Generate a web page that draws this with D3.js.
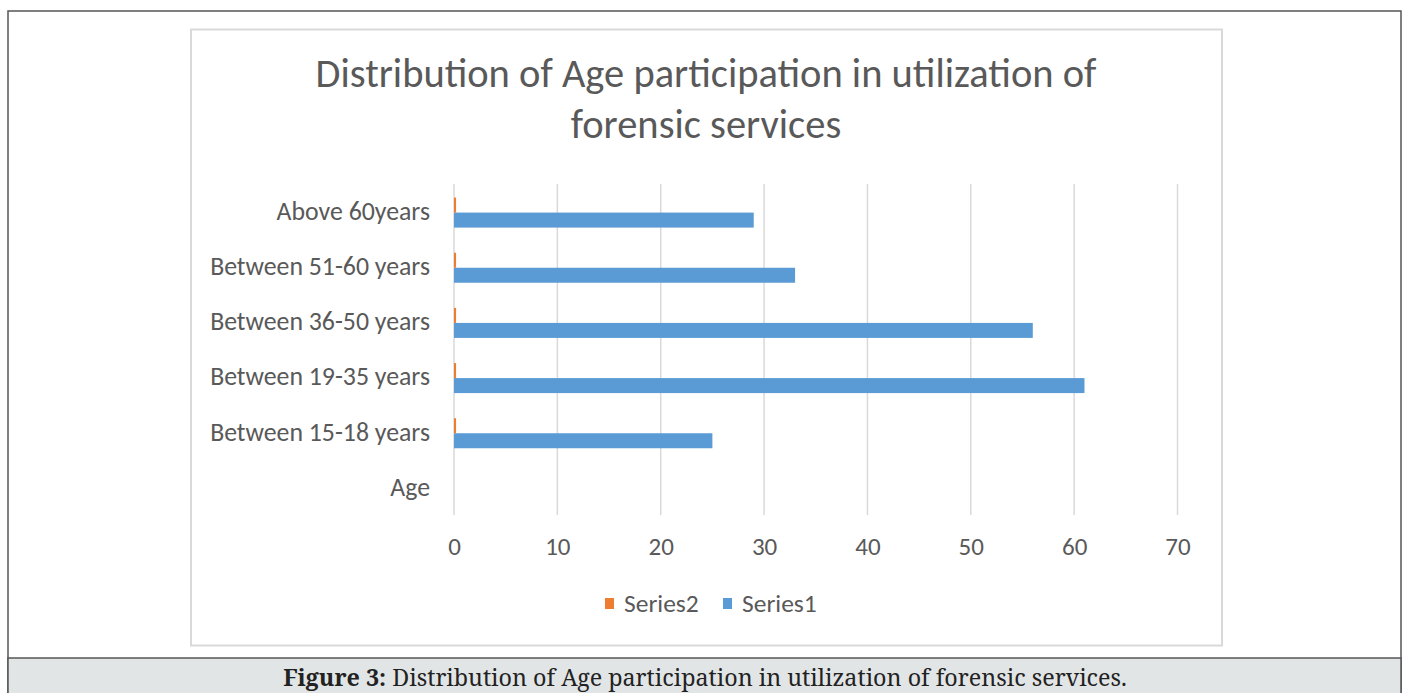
<!DOCTYPE html>
<html><head><meta charset="utf-8">
<script src="https://cdn.jsdelivr.net/npm/d3@7"></script>
<style>html,body{margin:0;padding:0;background:#fff;}svg{display:block;}</style>
</head><body>
<svg id="c" width="1405" height="693"></svg>
<script>
const categories = ["Age","Between 15-18 years","Between 19-35 years","Between 36-50 years","Between 51-60 years","Above 60years"];
const series1 = [0, 25, 61, 56, 33, 29];
const series2 = [0, 0.2, 0.2, 0.2, 0.2, 0.2];
const xTicks = [0,10,20,30,40,50,60,70];
const titleLines = ["Distribution of Age participation in utilization of","forensic services"];
const legendItems = ["Series2","Series1"];
const captionBold = "Figure 3:";
const captionText = " Distribution of Age participation in utilization of forensic services.";

const svg = d3.select("#c");
const font = "Carlito, 'Open Sans', sans-serif";
const gray = "#595959";
const blue = "#5b9bd5", orange = "#ed7d31";

// outer frame
svg.append("rect").attr("x",8).attr("y",11).attr("width",1393).attr("height",700)
  .attr("fill","#fff").attr("stroke","#555").attr("stroke-width",1.5);
svg.append("rect").attr("x",8).attr("y",658).attr("width",1393).attr("height",50)
  .attr("fill","#e2e5e6").attr("stroke","#555").attr("stroke-width",1.5);
// chart box
svg.append("rect").attr("x",191).attr("y",29.5).attr("width",1031).attr("height",616)
  .attr("fill","#fff").attr("stroke","#d9d9d9").attr("stroke-width",2);

// title
titleLines.forEach((t,i)=>{
  svg.append("text").attr("x",706).attr("y",87+i*51).attr("text-anchor","middle")
    .attr("font-family",font).attr("font-size",40.5).attr("fill",gray).text(t);
});

const x = d3.scaleLinear().domain([0,70]).range([454,1177.5]);
const y = d3.scaleBand().domain(categories.slice().reverse()).range([184,515]);

// gridlines
svg.append("g").selectAll("line").data(xTicks).join("line")
  .attr("x1",d=>x(d)).attr("x2",d=>x(d)).attr("y1",184).attr("y2",515)
  .attr("stroke","#d9d9d9").attr("stroke-width",1.5);

// x axis labels
const xa = svg.append("g").attr("transform","translate(0,515)")
  .call(d3.axisBottom(x).tickValues(xTicks).tickSize(0).tickPadding(0));
xa.select(".domain").remove();
xa.selectAll("text").attr("font-family",font).attr("font-size",25).attr("fill",gray)
  .attr("dy",0).attr("y",40);

// y axis labels
const ya = svg.append("g").attr("transform","translate(430,0)")
  .call(d3.axisLeft(y).tickSize(0).tickPadding(0));
ya.select(".domain").remove();
ya.selectAll("text").attr("font-family",font).attr("font-size",25.8).attr("fill",gray).attr("dy","0.32em");

const bh = 15;
const data = categories.map((c,i)=>({c, s1:series1[i], s2:series2[i]}));
// Series1 (lower)
svg.append("g").selectAll("rect").data(data.filter(d=>d.s1>0)).join("rect")
  .attr("x",x(0)).attr("width",d=>x(d.s1)-x(0))
  .attr("y",d=>y(d.c)+y.bandwidth()/2+1).attr("height",bh).attr("fill",blue);
// Series2 (upper)
svg.append("g").selectAll("rect").data(data.filter(d=>d.s2>0)).join("rect")
  .attr("x",x(0)).attr("width",d=>Math.max(2,x(d.s2)-x(0)))
  .attr("y",d=>y(d.c)+y.bandwidth()/2+1-bh).attr("height",bh).attr("fill",orange);

// legend
const lg = svg.append("g");
const lx = [605, 723];
legendItems.forEach((t,i)=>{
  lg.append("rect").attr("x",lx[i]).attr("y",598).attr("width",9).attr("height",11)
    .attr("fill", i===0?orange:blue);
  lg.append("text").attr("x",lx[i]+19).attr("y",612).attr("font-family",font)
    .attr("font-size",25.5).attr("fill",gray).text(t);
});

// caption
const cap = svg.append("text").attr("x",705).attr("y",686).attr("text-anchor","middle")
  .attr("font-family","'Noto Serif','DejaVu Serif','Liberation Serif',serif").attr("font-size",23.3).attr("fill","#222");
cap.append("tspan").attr("font-weight","bold").text(captionBold);
cap.append("tspan").text(captionText);
</script>
</body></html>
